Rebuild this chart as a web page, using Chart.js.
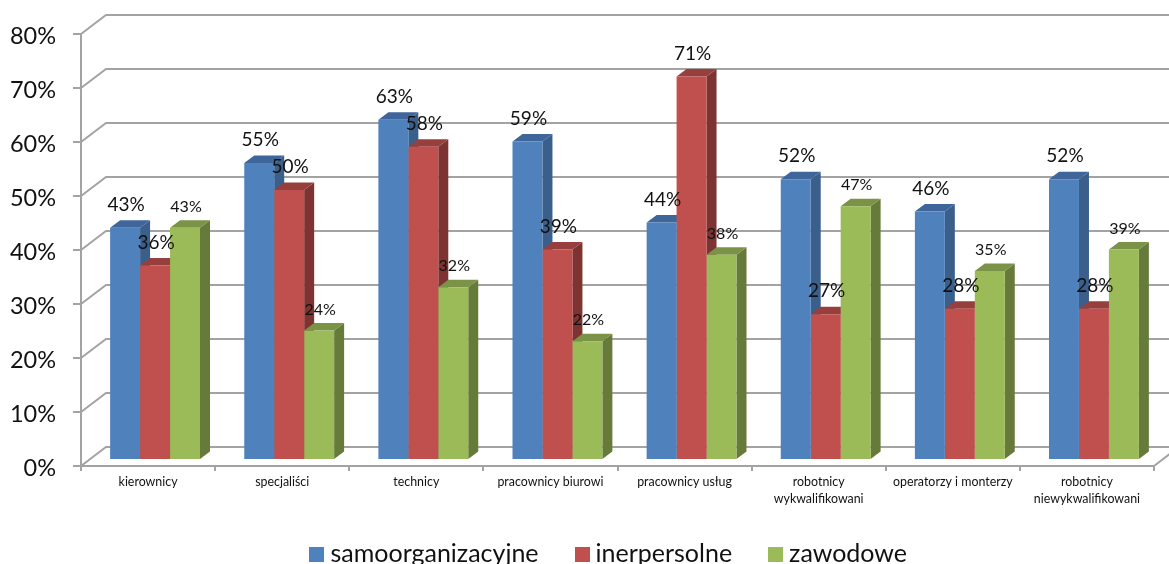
<!DOCTYPE html>
<html><head><meta charset="utf-8">
<style>html,body{margin:0;padding:0;background:#fff}#w{width:1169px;height:564px;overflow:hidden}</style>
<script src="https://cdn.jsdelivr.net/npm/chart.js@4"></script>
</head><body><div id="w"><canvas id="c" width="1169" height="564"></canvas></div>
<script>
const categories = ['kierownicy','specjaliści','technicy','pracownicy biurowi','pracownicy usług',['robotnicy','wykwalifikowani'],'operatorzy i monterzy',['robotnicy','niewykwalifikowani']];
const seriesNames = ['samoorganizacyjne','inerpersolne','zawodowe'];
const samoorganizacyjne = [43,55,63,59,44,52,46,52];
const inerpersolne = [36,50,58,39,71,27,28,28];
const zawodowe = [43,24,32,22,38,47,35,39];
const frontColors = ['#4F81BD','#C0504D','#9BBB59'];
const sideColors = ['#3A5F8B','#7C3331','#667A3A'];
const topColors = ['#3E669A','#973F3C','#7A9347'];
const labelSizes = [19,19,16];
const gridColor = '#a3a3a3';
const fontFam = 'Lato, Carlito, sans-serif';
const wall = {dx:25, dy:-19};   // back wall offset from the front plane
const plane = {dx:7, dy:-6};    // bar plane offset from the front plane
const depth = {dx:10, dy:-7.5}; // bar depth

function swatch(color){
  const s=document.createElement('canvas'); s.width=15; s.height=15;
  const x=s.getContext('2d'); x.fillStyle=color; x.fillRect(0,0,15,15); return s;
}
const threeD = {
  id:'threeD',
  beforeLayout(chart){
    const lg=chart.legend;
    if(lg && !lg._fitWrapped){
      const f=lg.fit;
      lg.fit=function(){f.call(this); this.height=53;};
      lg._fitWrapped=true;
    }
  },
  afterLayout(chart){
    const lg=chart.legend;
    lg.top=499; lg.left+=34.5; lg.right+=34.5;
  },
  beforeDatasetsDraw(chart){
    const {ctx,scales:{x,y},chartArea:a}=chart;
    ctx.save();
    ctx.strokeStyle=gridColor; ctx.lineWidth=2;
    y.ticks.forEach(t=>{
      const py=y.getPixelForValue(t.value);
      ctx.beginPath();
      ctx.moveTo(a.left,py);
      ctx.lineTo(a.left+wall.dx,py+wall.dy);
      ctx.lineTo(a.right+wall.dx+20,py+wall.dy);
      ctx.stroke();
    });
    ctx.beginPath();
    ctx.moveTo(a.right,a.bottom);
    ctx.lineTo(a.right+wall.dx,a.bottom+wall.dy);
    ctx.stroke();
    ctx.translate(plane.dx,plane.dy);
    [0,1,2].forEach(ds=>{
      chart.getDatasetMeta(ds).data.forEach(b=>{
        const p=b.getProps(['x','y','base','width'],true);
        const r=p.x+p.width/2,l=p.x-p.width/2;
        ctx.fillStyle=sideColors[ds];
        ctx.beginPath();ctx.moveTo(r,p.y);ctx.lineTo(r+depth.dx,p.y+depth.dy);ctx.lineTo(r+depth.dx,p.base+depth.dy);ctx.lineTo(r,p.base);ctx.closePath();ctx.fill();
        ctx.fillStyle=topColors[ds];
        ctx.beginPath();ctx.moveTo(l,p.y);ctx.lineTo(l+depth.dx,p.y+depth.dy);ctx.lineTo(r+depth.dx,p.y+depth.dy);ctx.lineTo(r,p.y);ctx.closePath();ctx.fill();
      });
    });
    ctx.restore();
    ctx.save();
    ctx.translate(plane.dx,plane.dy);
  },
  afterDatasetsDraw(chart){
    const {ctx}=chart;
    ctx.restore();
    ctx.save();
    ctx.textAlign='center'; ctx.textBaseline='middle'; ctx.fillStyle='#111';
    [0,1,2].forEach(ds=>{
      ctx.font=labelSizes[ds]+'px '+fontFam;
      const meta=chart.getDatasetMeta(ds);
      meta.data.forEach((b,i)=>{
        const p=b.getProps(['x','y'],true);
        const v=chart.data.datasets[ds].data[i];
        ctx.fillText(v+'%',p.x+plane.dx+1,p.y+plane.dy+(ds===2?-21:-23));
      });
    });
    ctx.restore();
  }
};
const seriesValues=[samoorganizacyjne,inerpersolne,zawodowe];
new Chart(document.getElementById('c'),{
  type:'bar',
  data:{labels:categories,datasets:seriesNames.map((n,i)=>({
    label:n,data:seriesValues[i],backgroundColor:frontColors[i],borderWidth:0,
    barPercentage:1,categoryPercentage:0.67,clip:false
  }))},
  plugins:[threeD],
  options:{
    responsive:false,animation:false,
    layout:{padding:{left:0,right:15,top:34,bottom:0}},
    plugins:{
      tooltip:{enabled:false},
      legend:{position:'bottom',labels:{
        usePointStyle:true,pointStyleWidth:2,padding:42.5,color:'#111',font:{family:fontFam,size:25},
        generateLabels(chart){
          return Chart.defaults.plugins.legend.labels.generateLabels(chart).map((l,i)=>({...l,pointStyle:swatch(frontColors[i])}));
        }
      }}
    },
    scales:{
      x:{
        afterFit(s){s.height=45;},
        grid:{drawOnChartArea:false,offset:true,color:gridColor,lineWidth:2,tickLength:5},
        border:{color:gridColor,width:2},
        ticks:{color:'#111',maxRotation:0,autoSkip:false,padding:3,font:{family:fontFam,size:12.4,lineHeight:1.37}}
      },
      y:{
        min:0,max:80,
        afterFit(s){s.width=81;},
        grid:{drawOnChartArea:false,color:gridColor,lineWidth:2,tickLength:8},
        border:{color:gridColor,width:2},
        ticks:{stepSize:10,color:'#111',padding:17,labelOffset:2,font:{family:fontFam,size:23.5},callback:v=>v+'%'}
      }
    }
  }
});
</script></body></html>
